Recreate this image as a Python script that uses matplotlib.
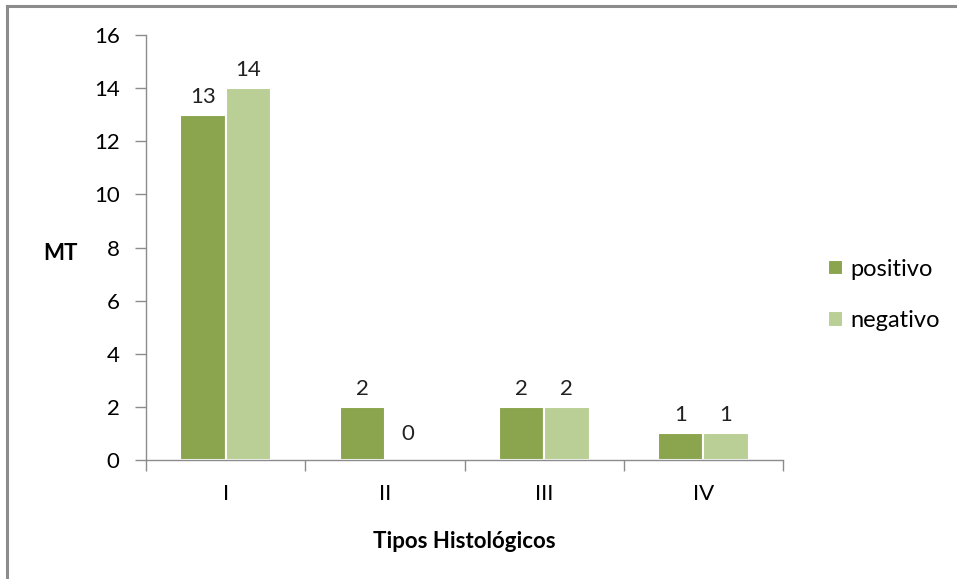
import matplotlib as mpl
mpl.use("Agg")
import matplotlib.pyplot as plt
import numpy as np
from matplotlib.lines import Line2D

plt.rcParams["font.family"] = ["Lato", "DejaVu Sans"]

# Tipos histologicos vs MT
categories = ["I", "II", "III", "IV"]
positivo = [13, 2, 2, 1]
negativo = [14, 0, 2, 1]
y_ticks = [0, 2, 4, 6, 8, 10, 12, 14, 16]

col_pos = "#8aa54d"
col_neg = "#b9cf95"
axis_col = "#8c8c8c"
fs = 16

fig = plt.figure(figsize=(9.57, 5.79), dpi=100)
ax = fig.add_axes([0.1526, 0.2055, 0.6656, 0.734])

x = np.arange(len(categories))
w = 0.285
b1 = ax.bar(x - w / 2, positivo, w, color=col_pos, edgecolor="white", linewidth=1.5, label="positivo")
b2 = ax.bar(x + w / 2, negativo, w, color=col_neg, edgecolor="white", linewidth=1.5, label="negativo")

for bars, vals in [(b1, positivo), (b2, negativo)]:
    for rect, v in zip(bars, vals):
        if v == 0:
            ax.text(rect.get_x() + rect.get_width() / 2, 0.6, str(v),
                    ha="center", va="bottom", fontsize=fs, color="#222222")
        else:
            ax.text(rect.get_x() + rect.get_width() / 2, v + 0.3, str(v),
                    ha="center", va="bottom", fontsize=fs, color="#222222")

ax.set_xlim(-0.5, len(categories) - 0.5)
ax.set_ylim(0, 16)
ax.set_yticks(y_ticks)
ax.set_xticks(np.arange(len(categories) + 1) - 0.5)
ax.set_xticklabels([])
ax.set_xticks(x, minor=True)
ax.set_xticklabels(categories, minor=True)
ax.tick_params(axis="x", which="minor", length=0, pad=17, labelsize=fs)
ax.tick_params(axis="x", which="major", length=8, color=axis_col, width=1)
ax.tick_params(axis="y", length=8, color=axis_col, width=1, labelsize=fs, pad=11)

for s in ["top", "right"]:
    ax.spines[s].set_visible(False)
for s in ["left", "bottom"]:
    ax.spines[s].set_color(axis_col)
    ax.spines[s].set_linewidth(1)

ax.set_xlabel("Tipos Histológicos", fontsize=fs, fontweight="bold", labelpad=20)
ax.set_ylabel("MT", fontsize=fs, fontweight="bold", rotation=0, va="center")
ax.yaxis.set_label_coords(-0.135, 0.485)

ax.legend(loc="center left", bbox_to_anchor=(1.07, 0.388), frameon=False, fontsize=17,
          borderpad=0, borderaxespad=0,
          handlelength=0.65, handleheight=0.65, handletextpad=0.3, labelspacing=1.3)

# frame around the chart
fig.add_artist(Line2D([0.007, 1.0], [0.9895, 0.9895], color="#8c8c8c", linewidth=2.2))
fig.add_artist(Line2D([0.0075, 0.0075], [0.0, 0.9895], color="#8c8c8c", linewidth=2.2))

fig.savefig("out.png", dpi=100)
